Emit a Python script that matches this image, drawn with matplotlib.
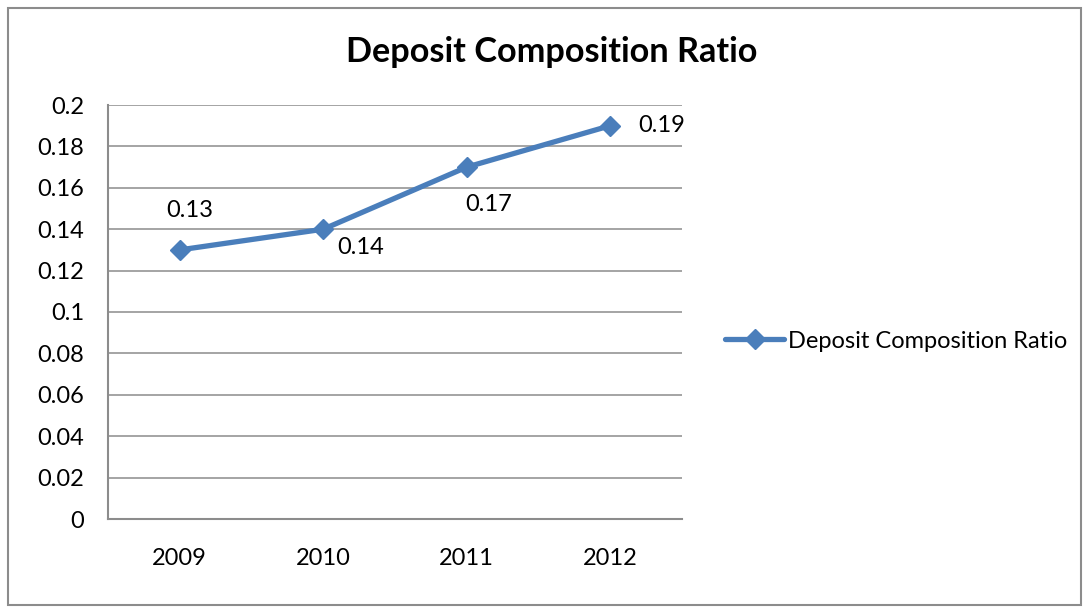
import matplotlib
matplotlib.use("Agg")
import matplotlib.pyplot as plt
from matplotlib.patches import Rectangle

years = ["2009", "2010", "2011", "2012"]
ratios = [0.13, 0.14, 0.17, 0.19]
series_name = "Deposit Composition Ratio"
title = "Deposit Composition Ratio"
yticks = [0, 0.02, 0.04, 0.06, 0.08, 0.1, 0.12, 0.14, 0.16, 0.18, 0.2]
ytick_labels = ["0", "0.02", "0.04", "0.06", "0.08", "0.1", "0.12", "0.14", "0.16", "0.18", "0.2"]

plt.rcParams['font.family'] = ['Lato', 'DejaVu Sans']

W, H = 1084, 607
fig = plt.figure(figsize=(W / 100, H / 100), dpi=100)
fig.patch.set_facecolor("white")

# outer chart border
fig.patches.append(Rectangle((8 / W, 1 - 605 / H), (1081 - 8) / W, (605 - 8) / H,
                             transform=fig.transFigure, fill=False,
                             edgecolor="#8c8c8c", linewidth=1.5))

l, r, t, b = 108, 682, 105, 519
ax = fig.add_axes([l / W, 1 - b / H, (r - l) / W, (b - t) / H])

color = "#4A7EBB"
x = list(range(len(years)))
line, = ax.plot(x, ratios, color=color, linewidth=3.8, marker="D", markersize=10,
                markerfacecolor=color, markeredgecolor=color, label=series_name,
                solid_capstyle="round", zorder=3)

ax.set_xlim(-0.5, len(years) - 0.5)
ax.set_ylim(0, 0.2)
ax.set_yticks(yticks)
ax.set_yticklabels(ytick_labels)
ax.set_xticks(x)
ax.set_xticklabels(years)
ax.tick_params(axis="both", length=0, labelsize=17, colors="black")
ax.tick_params(axis="y", pad=17)
ax.tick_params(axis="x", pad=21)
for lab in ax.get_yticklabels():
    lab.set_horizontalalignment("right")

ax.grid(axis="y", color="#8c8c8c", linewidth=1.1)
ax.set_axisbelow(True)
for s in ["top", "right"]:
    ax.spines[s].set_visible(False)
for s in ["left", "bottom"]:
    ax.spines[s].set_color("#8c8c8c")
    ax.spines[s].set_linewidth(1.5)

# data labels (offsets in pixels)
offsets = [(10, 39), (37, -18), (22, -37), (51, 0)]
for xi, yi, (dx, dy) in zip(x, ratios, offsets):
    ax.annotate(f"{yi:g}", (xi, yi), xytext=(dx * 0.72, dy * 0.72),
                textcoords="offset points", ha="center", va="center", fontsize=17)

fig.text(552 / W, 1 - 52 / H, title, ha="center", va="center",
         fontsize=24.7, fontweight="bold")

fig.legend(handles=[line], loc="center left",
           bbox_to_anchor=(716 / W, 1 - 341 / H), frameon=False,
           fontsize=17, handlelength=2.5, handletextpad=0.15, borderaxespad=0)

fig.savefig("out.png", dpi=100)
